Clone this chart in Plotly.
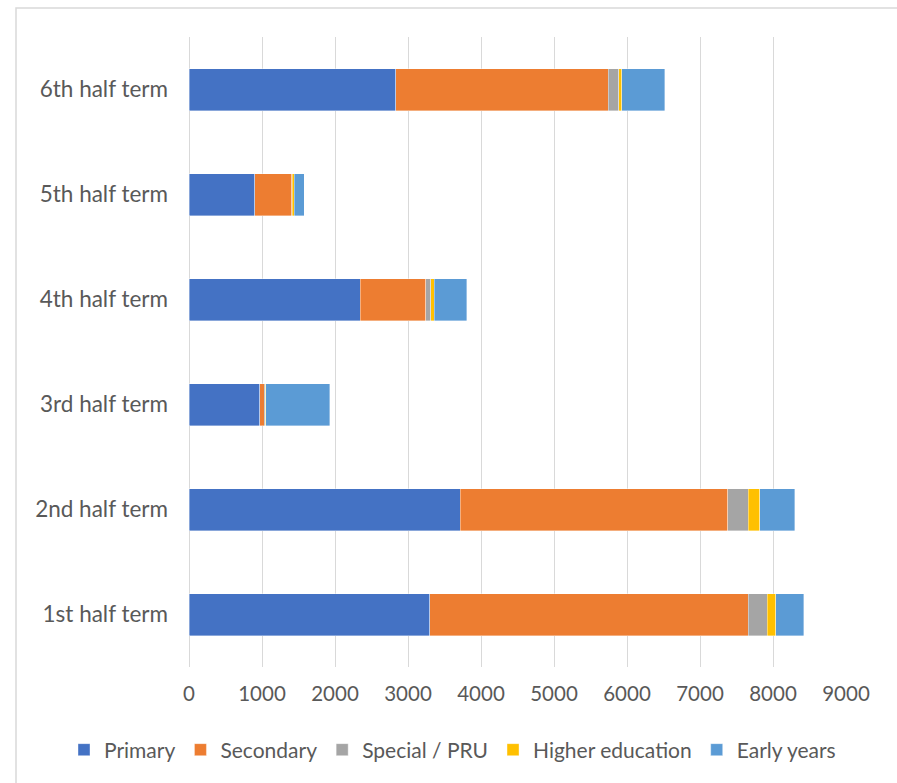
import plotly.graph_objects as go

categories = ["1st half term", "2nd half term", "3rd half term",
              "4th half term", "5th half term", "6th half term"]
primary = [3300, 3715, 970, 2345, 900, 2830]
secondary = [4360, 3665, 60, 900, 505, 2910]
special = [260, 280, 15, 70, 10, 150]
higher = [115, 160, 5, 45, 30, 40]
early = [385, 475, 880, 445, 135, 585]
tick_vals = [0, 1000, 2000, 3000, 4000, 5000, 6000, 7000, 8000, 9000]

series = [
    ("Primary", primary, "#4472C4"),
    ("Secondary", secondary, "#ED7D31"),
    ("Special / PRU", special, "#A5A5A5"),
    ("Higher education", higher, "#FFC000"),
    ("Early years", early, "#5B9BD5"),
]

fig = go.Figure()
for name, vals, col in series:
    fig.add_trace(go.Bar(
        y=categories, x=vals, name=name, orientation="h",
        marker=dict(color=col, line=dict(color="rgba(255,255,255,0.5)", width=0.75)),
    ))

FONT = "Lato, Calibri, 'Open Sans', sans-serif"
TXT = "#595959"

fig.update_layout(
    barmode="stack",
    bargap=0.6,
    width=897, height=783,
    margin=dict(l=189, r=51, t=37, b=116, autoexpand=False),
    paper_bgcolor="white", plot_bgcolor="white",
    font=dict(family=FONT, size=20, color=TXT),
    showlegend=True,
    legend=dict(orientation="h", x=(64 - 189) / 657, xanchor="left",
                y=-(750 - 667) / 630, yanchor="middle",
                font=dict(family=FONT, size=21, color=TXT), traceorder="normal",
                itemclick=False),
    xaxis=dict(range=[0, 9000], tickvals=tick_vals, showgrid=True, gridcolor="#D9D9D9",
               gridwidth=1, zeroline=True, zerolinecolor="#D9D9D9", zerolinewidth=1,
               showline=False, ticks="", ticklabelstandoff=12,
               tickfont=dict(family=FONT, size=20.5, color=TXT)),
    yaxis=dict(showgrid=False, showline=False, ticks="", ticklabelstandoff=20,
               tickfont=dict(family=FONT, size=22.5, color=TXT)),
    shapes=[dict(type="rect", xref="paper", yref="paper",
                 x0=(16 - 189) / 657, x1=(1000 - 189) / 657,
                 y0=(667 - 900) / 630, y1=(667 - 8) / 630,
                 line=dict(color="#D9D9D9", width=1.5), fillcolor="rgba(0,0,0,0)",
                 layer="below")],
)

fig.write_html("out.html")
